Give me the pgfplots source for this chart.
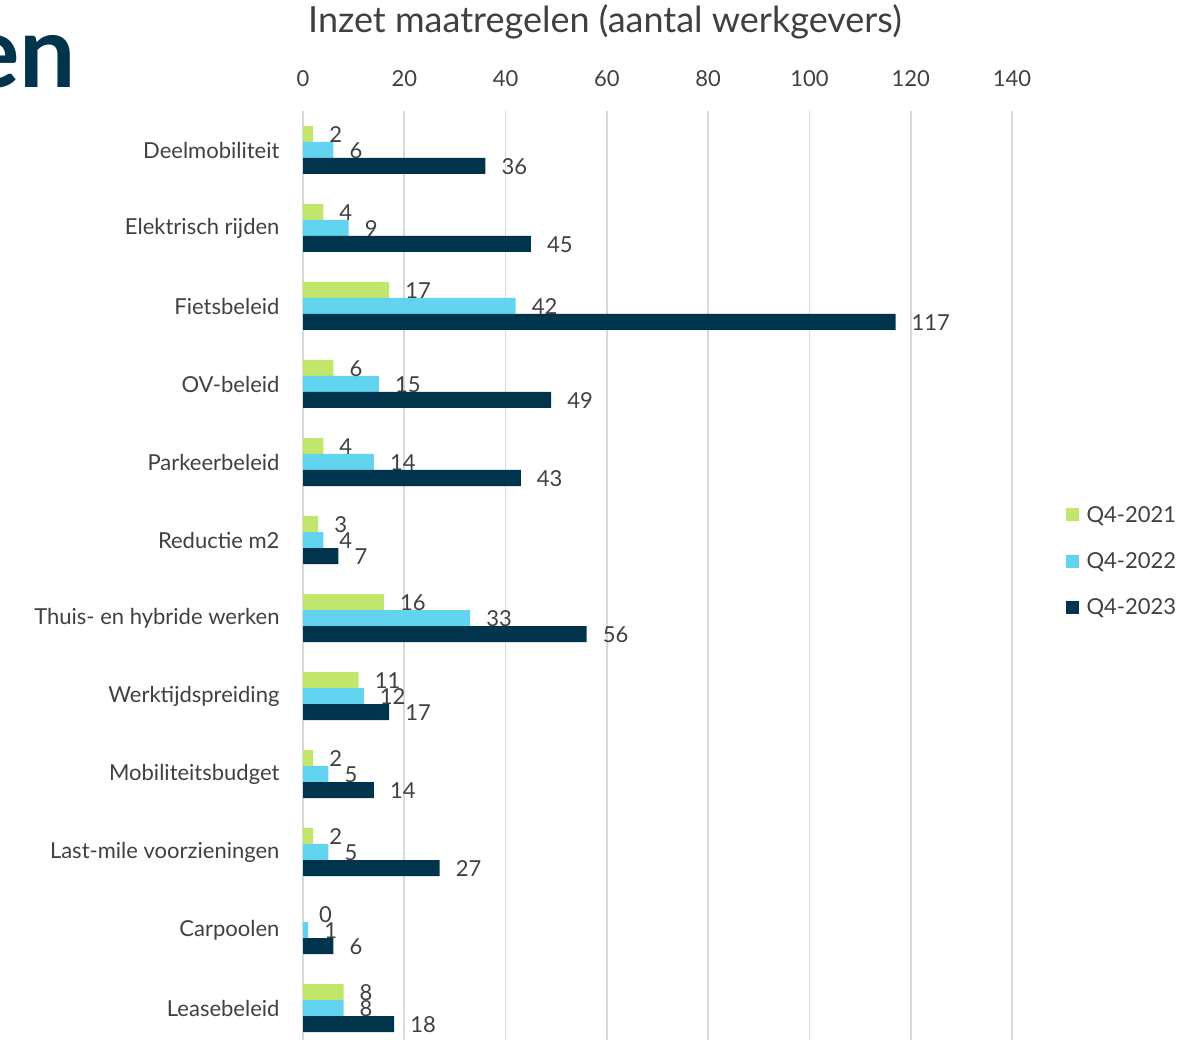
\documentclass[border=0pt]{standalone}
\usepackage{pgfplots}
\pgfplotsset{compat=1.18}
\usepackage{fontspec}
\setmainfont{Lato}
\definecolor{cgreen}{HTML}{C2E66B}
\definecolor{ccyan}{HTML}{62D4F0}
\definecolor{cnavy}{HTML}{00344D}
\definecolor{ctext}{HTML}{404040}
\definecolor{cgrid}{HTML}{D9D9D9}
\begin{document}
\begin{tikzpicture}[x=1pt,y=1pt]
\begin{axis}[
  at={(303pt,-7pt)}, anchor=south west, scale only axis,
  width=709pt, height=936pt,
  xbar=0pt, bar width=16pt,
  xmin=0, xmax=140, ymin=-0.5, ymax=11.5, y dir=reverse,
  xtick={0,20,...,140}, ytick={0,...,11},
  yticklabels={Deelmobiliteit,Elektrisch rijden,Fietsbeleid,OV-beleid,Parkeerbeleid,Reductie m2,Thuis- en hybride werken,Werktijdspreiding,Mobiliteitsbudget,Last-mile voorzieningen,Carpoolen,Leasebeleid},
  xticklabel pos=upper,
  axis line style={draw=none}, major tick length=0pt,
  xmajorgrids, grid style={cgrid, line width=1.6pt},
  tick label style={font=\fontsize{22}{26}\selectfont, text=ctext},
  /pgf/number format/assume math mode=true,
  xticklabel style={yshift=21pt},
  yticklabel style={xshift=-20pt},
  point meta=x,
  nodes near coords,
  every node near coord/.append style={font=\fontsize{22}{26}\selectfont, text=ctext, anchor=west, inner sep=0pt, xshift=16pt, yshift=-1pt},
  legend style={at={(1.071,0.519)}, anchor=west, draw=none, fill=none,
    font=\fontsize{22}{26}\selectfont, text=ctext, row sep=25pt},
  legend cell align=left,
  /tikz/every odd column/.append style={column sep=6pt},
  legend image code/.code={\fill[#1] (0pt,-6.5pt) rectangle (13pt,6.5pt);},
]
\addplot[draw=none, fill=cgreen, bar shift=16pt] coordinates {(2,0) (4,1) (17,2) (6,3) (4,4) (3,5) (16,6) (11,7) (2,8) (2,9) (0,10) (8,11)};
\addplot[draw=none, fill=ccyan, bar shift=0pt] coordinates {(6,0) (9,1) (42,2) (15,3) (14,4) (4,5) (33,6) (12,7) (5,8) (5,9) (1,10) (8,11)};
\addplot[draw=none, fill=cnavy, bar shift=-16pt] coordinates {(36,0) (45,1) (117,2) (49,3) (43,4) (7,5) (56,6) (17,7) (14,8) (27,9) (6,10) (18,11)};
\legend{Q4-2021,Q4-2022,Q4-2023}
\end{axis}
\node[font=\fontsize{36}{42}\selectfont, text=ctext] at (605pt,1018pt) {Inzet maatregelen (aantal werkgevers)};
\node[font=\fontsize{100}{110}\selectfont\bfseries, text=cnavy, anchor=base east, inner sep=0pt] at (76pt,952pt) {en};
\pgfresetboundingbox
\path[use as bounding box] (0pt,0pt) rectangle (1181pt,1040pt);
\end{tikzpicture}
\end{document}
